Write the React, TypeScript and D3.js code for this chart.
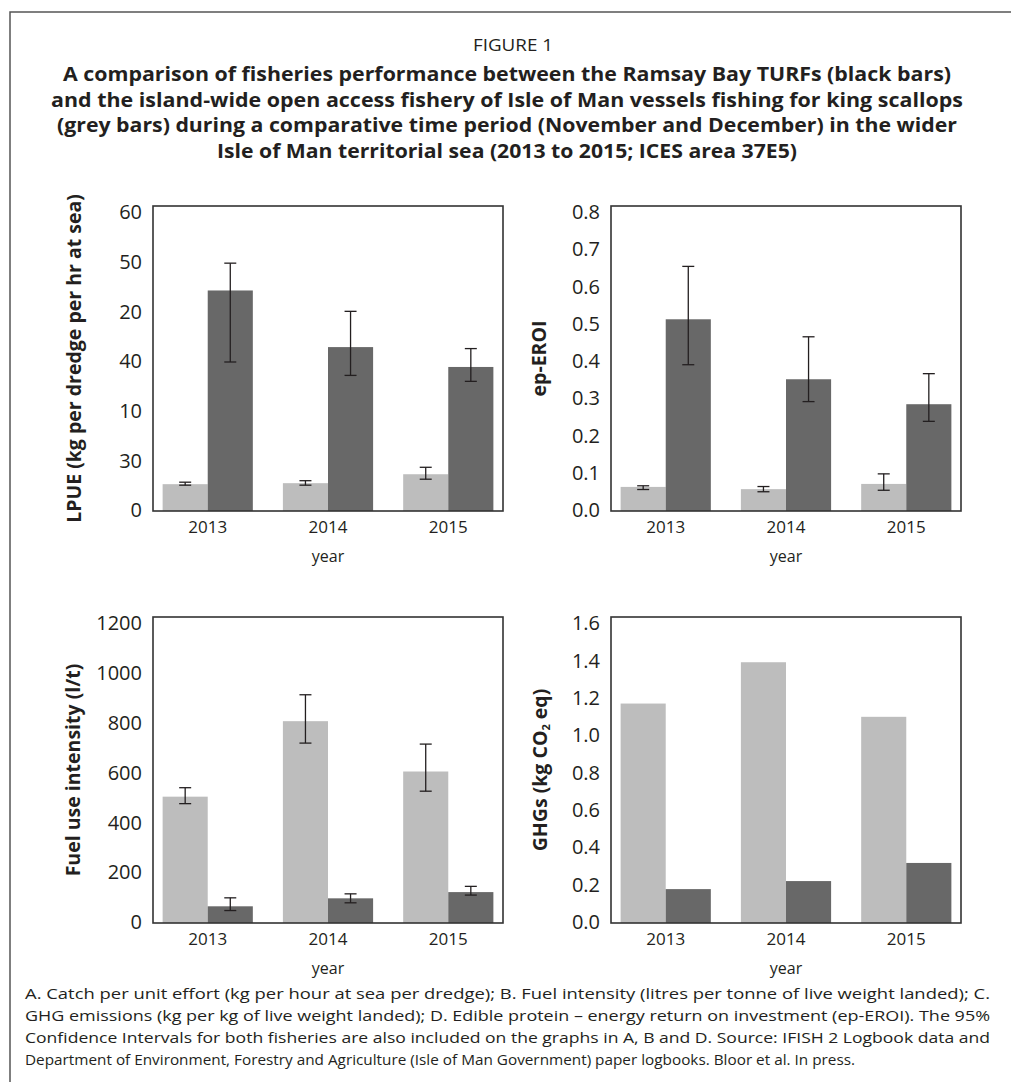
import React from "react";
import * as d3 from "d3";

const years = ["2013", "2014", "2015"];

// A. LPUE (tick labels are printed this way in the source figure)
const lpueTicks = [0, 10, 20, 30, 40, 50, 60];
const lpueTickLabels = ["0", "30", "10", "40", "20", "50", "60"];
const lpueOpen = [5.2, 5.4, 7.2];
const lpueOpenLow = [5.0, 5.0, 6.2];
const lpueOpenHigh = [5.6, 5.9, 8.6];
const lpueTurf = [44.2, 32.8, 28.8];
const lpueTurfLow = [29.8, 27.1, 25.9];
const lpueTurfHigh = [49.7, 40.0, 32.5];

// B. ep-EROI
const eroiTicks = [0, 0.1, 0.2, 0.3, 0.4, 0.5, 0.6, 0.7, 0.8];
const eroiOpen = [0.062, 0.056, 0.07];
const eroiOpenLow = [0.055, 0.049, 0.053];
const eroiOpenHigh = [0.065, 0.063, 0.097];
const eroiTurf = [0.512, 0.351, 0.284];
const eroiTurfLow = [0.39, 0.291, 0.238];
const eroiTurfHigh = [0.654, 0.465, 0.366];

// C. fuel use intensity
const fuelTicks = [0, 200, 400, 600, 800, 1000, 1200];
const fuelOpen = [503, 806, 604];
const fuelOpenLow = [475, 718, 525];
const fuelOpenHigh = [539, 912, 714];
const fuelTurf = [63, 95, 120];
const fuelTurfLow = [46, 77, 108];
const fuelTurfHigh = [97, 113, 143];

// D. GHGs
const ghgTicks = [0, 0.2, 0.4, 0.6, 0.8, 1.0, 1.2, 1.4, 1.6];
const ghgOpen = [1.169, 1.39, 1.098];
const ghgTurf = [0.176, 0.219, 0.316];

const titleLines = [
  "A comparison of fisheries performance between the Ramsay Bay TURFs (black bars)",
  "and the island-wide open access fishery of Isle of Man vessels fishing for king scallops",
  "(grey bars) during a comparative time period (November and December) in the wider",
  "Isle of Man territorial sea (2013 to 2015; ICES area 37E5)",
];
const titleWidths = [888, 912, 900, 580];

const captionLines = [
  "A. Catch per unit effort (kg per hour at sea per dredge); B. Fuel intensity (litres per tonne of live weight landed); C.",
  "GHG emissions (kg per kg of live weight landed); D. Edible protein – energy return on investment (ep-EROI). The 95%",
  "Confidence Intervals for both fisheries are also included on the graphs in A, B and D. Source: IFISH 2 Logbook data and",
  "Department of Environment, Forestry and Agriculture (Isle of Man Government) paper logbooks. Bloor et al. In press.",
];
const captionWidths = [965, 965, 965, 830];

const GREY = "#bdbdbd";
const DARK = "#686868";
const INK = "#231f20";
const FONT = "'Open Sans', 'Noto Sans', sans-serif";

type PanelProps = {
  left: number;
  top: number;
  width: number;
  height: number;
  ticks: number[];
  tickLabels: string[];
  yTitle: React.ReactNode;
  titleX: number;
  grey: number[];
  dark: number[];
  greyErr?: [number[], number[]];
  darkErr?: [number[], number[]];
};

function Panel(p: PanelProps) {
  const bottom = p.top + p.height;
  const x = d3
    .scaleBand()
    .domain(years)
    .range([p.left, p.left + p.width])
    .paddingInner(0.25)
    .paddingOuter(0.08);
  const y = d3
    .scaleLinear()
    .domain([0, p.ticks[p.ticks.length - 1]])
    .range([bottom - 1, p.top + 6]);
  const bw = x.bandwidth() / 2;

  const errBar = (cx: number, lo: number, hi: number, key: string) => (
    <g key={key} stroke={INK} strokeWidth={1.3}>
      <line x1={cx} x2={cx} y1={y(lo)} y2={y(hi)} />
      <line x1={cx - 6} x2={cx + 6} y1={y(lo)} y2={y(lo)} />
      <line x1={cx - 6} x2={cx + 6} y1={y(hi)} y2={y(hi)} />
    </g>
  );

  return (
    <g>
      {years.map((yr, i) => (
        <g key={yr}>
          <rect x={x(yr)!} y={y(p.grey[i])} width={bw} height={bottom - y(p.grey[i])} fill={GREY} />
          <rect x={x(yr)! + bw} y={y(p.dark[i])} width={bw} height={bottom - y(p.dark[i])} fill={DARK} />
        </g>
      ))}
      {p.greyErr &&
        years.map((yr, i) => errBar(x(yr)! + bw / 2, p.greyErr![0][i], p.greyErr![1][i], "g" + yr))}
      {p.darkErr &&
        years.map((yr, i) => errBar(x(yr)! + bw * 1.5, p.darkErr![0][i], p.darkErr![1][i], "d" + yr))}
      <rect x={p.left} y={p.top} width={p.width} height={p.height} fill="none" stroke="#333" strokeWidth={1.6} />
      {p.ticks.map((t, i) => (
        <text key={t} x={p.left - 11} y={y(t)} dy="0.36em" textAnchor="end" fontSize={20} fill={INK}>
          {p.tickLabels[i]}
        </text>
      ))}
      {years.map((yr) => (
        <text key={yr} x={x(yr)! + bw} y={bottom + 22} textAnchor="middle" fontSize={17} fill={INK}>
          {yr}
        </text>
      ))}
      <text x={p.left + p.width / 2} y={bottom + 51} textAnchor="middle" fontSize={16} fill={INK}>
        year
      </text>
      <text
        transform={`translate(${p.titleX},${p.top + p.height / 2}) rotate(-90)`}
        textAnchor="middle"
        fontSize={19.5}
        fontWeight="bold"
        fill={INK}
      >
        {p.yTitle}
      </text>
    </g>
  );
}

export default function App() {
  const f1 = d3.format(".1f");
  return (
    <svg
      width={1011}
      height={1082}
      style={{ position: "absolute", left: 0, top: 0, background: "#fff" }}
      fontFamily={FONT}
    >
      <rect x={10} y={12} width={1020} height={1100} fill="none" stroke="#555" strokeWidth={1.5} />
      <text x={513} y={51} textAnchor="middle" fontSize={17} fill={INK} textLength={80} lengthAdjust="spacingAndGlyphs">
        FIGURE 1
      </text>
      {titleLines.map((t, i) => (
        <text
          key={i}
          x={507}
          y={81 + i * 25.5}
          textAnchor="middle"
          fontSize={19}
          fontWeight="bold"
          fill={INK}
          textLength={titleWidths[i]}
          lengthAdjust="spacingAndGlyphs"
        >
          {t}
        </text>
      ))}

      <Panel
        left={153}
        top={206}
        width={350}
        height={305}
        ticks={lpueTicks}
        tickLabels={lpueTickLabels}
        yTitle="LPUE (kg per dredge per hr at sea)"
        titleX={81}
        grey={lpueOpen}
        dark={lpueTurf}
        greyErr={[lpueOpenLow, lpueOpenHigh]}
        darkErr={[lpueTurfLow, lpueTurfHigh]}
      />
      <Panel
        left={611}
        top={206}
        width={350}
        height={305}
        ticks={eroiTicks}
        tickLabels={eroiTicks.map(f1)}
        yTitle="ep-EROI"
        titleX={546}
        grey={eroiOpen}
        dark={eroiTurf}
        greyErr={[eroiOpenLow, eroiOpenHigh]}
        darkErr={[eroiTurfLow, eroiTurfHigh]}
      />
      <Panel
        left={153}
        top={617}
        width={350}
        height={306}
        ticks={fuelTicks}
        tickLabels={fuelTicks.map(String)}
        yTitle="Fuel use intensity (l/t)"
        titleX={80}
        grey={fuelOpen}
        dark={fuelTurf}
        greyErr={[fuelOpenLow, fuelOpenHigh]}
        darkErr={[fuelTurfLow, fuelTurfHigh]}
      />
      <Panel
        left={611}
        top={617}
        width={350}
        height={306}
        ticks={ghgTicks}
        tickLabels={ghgTicks.map(f1)}
        yTitle={
          <>
            GHGs (kg CO
            <tspan fontSize={11} dy={3}>2</tspan>
            <tspan dy={-3}> eq)</tspan>
          </>
        }
        titleX={547}
        grey={ghgOpen}
        dark={ghgTurf}
      />

      {captionLines.map((t, i) => (
        <text
          key={i}
          x={25}
          y={999 + i * 22}
          fontSize={15}
          fill={INK}
          textLength={captionWidths[i]}
          lengthAdjust="spacingAndGlyphs"
        >
          {t}
        </text>
      ))}
    </svg>
  );
}
